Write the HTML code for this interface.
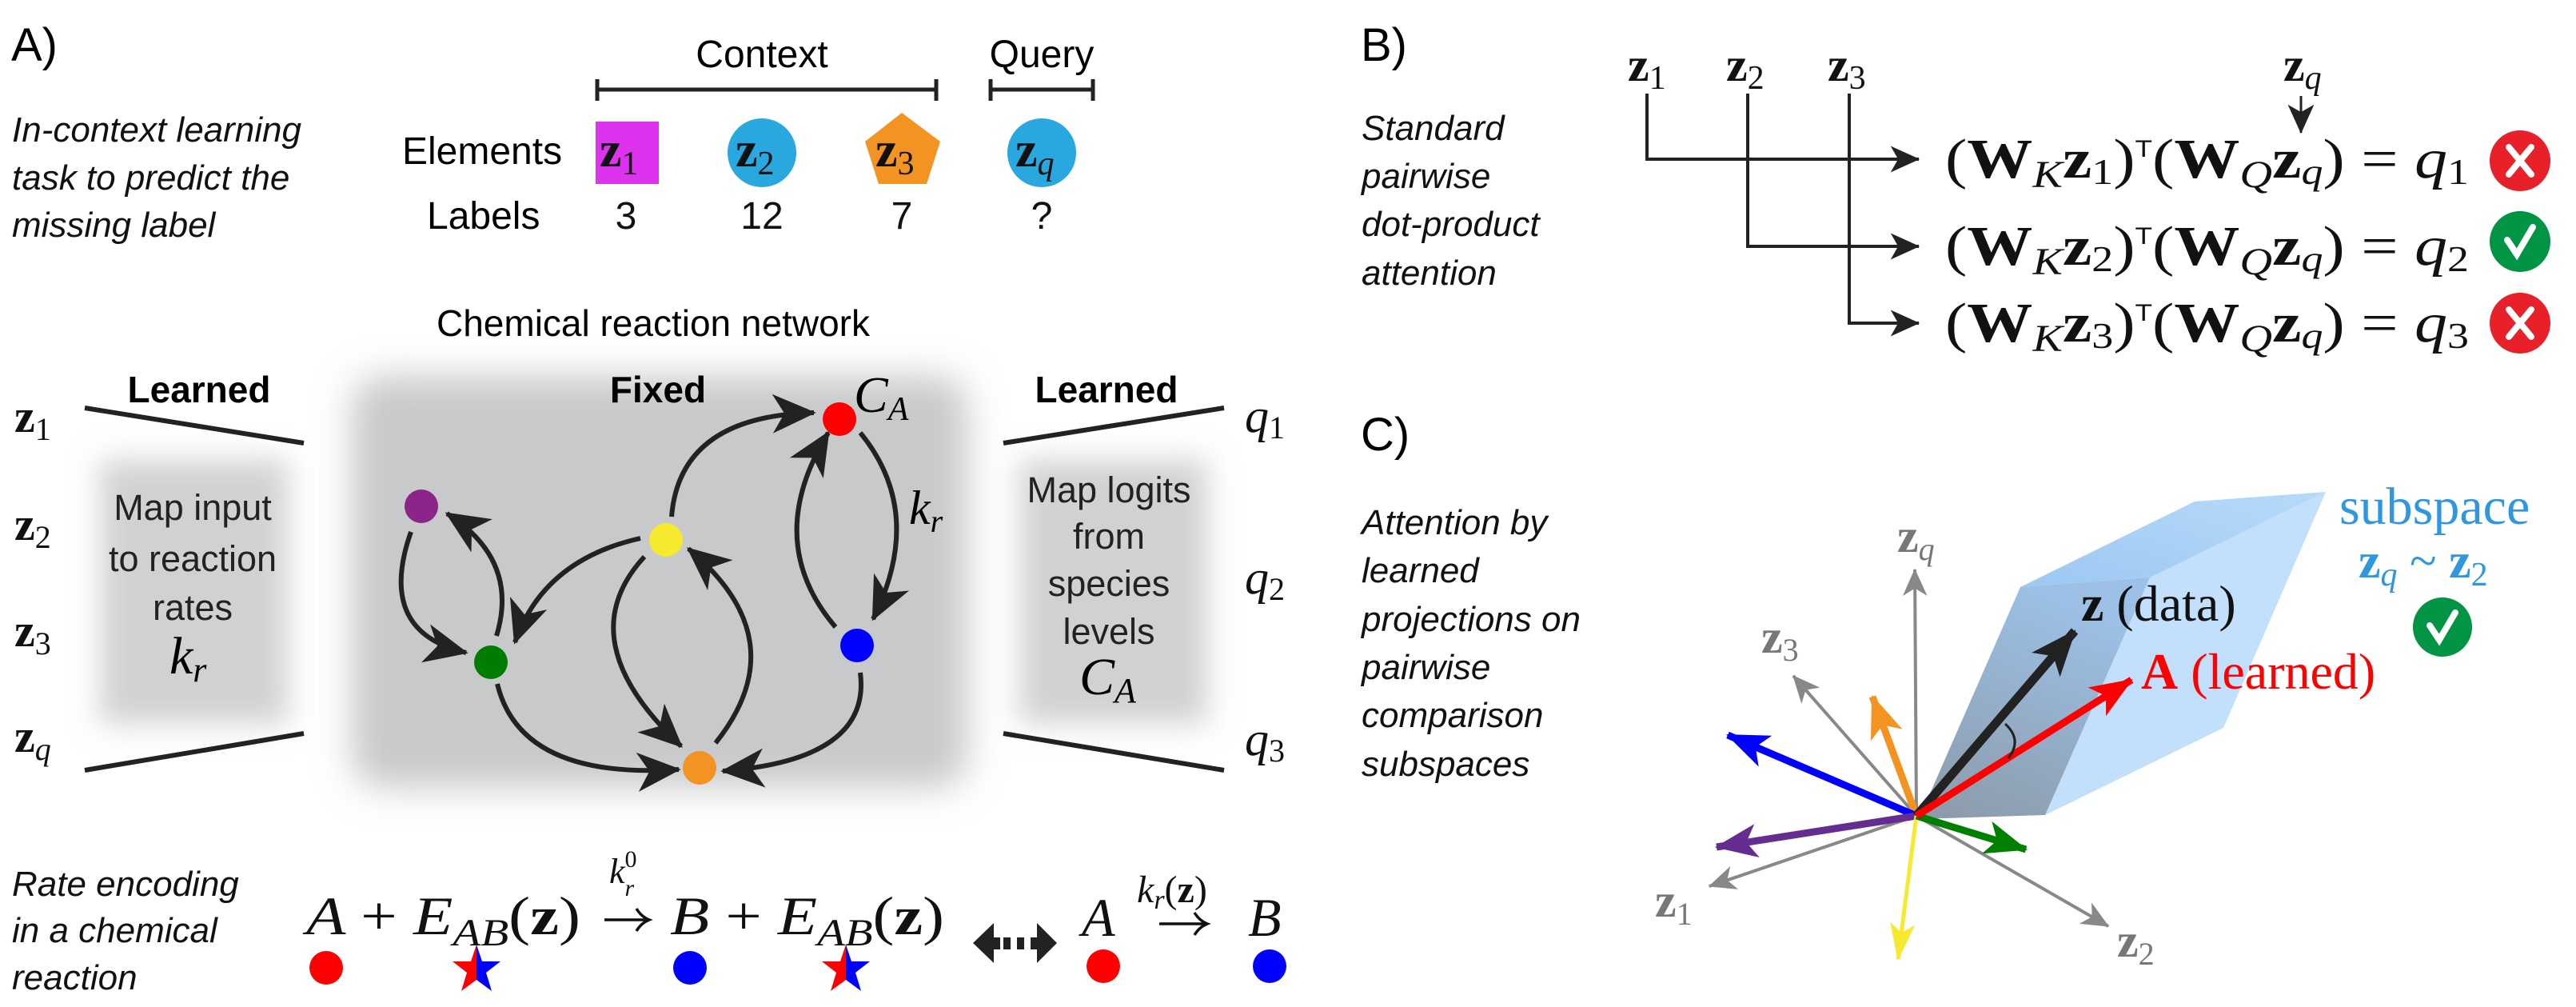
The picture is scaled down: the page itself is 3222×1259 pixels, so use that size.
<!DOCTYPE html>
<html><head><meta charset="utf-8"><style>
html,body{margin:0;padding:0;background:#fff;}
svg{display:block;}
.s{font-family:"Liberation Sans",sans-serif;}
.i{font-family:"Liberation Sans",sans-serif;font-style:italic;font-size:44px;fill:#111;}
.m{font-family:"Liberation Serif",serif;}
.mi{font-family:"Liberation Serif",serif;font-style:italic;}
</style></head><body>
<svg width="3222" height="1259" viewBox="0 0 3222 1259" xmlns="http://www.w3.org/2000/svg">
<defs>
<marker id="ah" markerUnits="userSpaceOnUse" markerWidth="60" markerHeight="60" refX="0" refY="0" viewBox="-40 -20 44 40" orient="auto"><path d="M2,0 L-38,-18 L-27,0 L-38,18 Z" fill="#222"/></marker>
<marker id="ahb" markerUnits="userSpaceOnUse" markerWidth="40" markerHeight="40" refX="0" refY="0" viewBox="-32 -16 34 32" orient="auto"><path d="M1,0 L-30,-14 L-22,0 L-30,14 Z" fill="#222"/></marker>
<marker id="ahg" markerUnits="userSpaceOnUse" markerWidth="40" markerHeight="40" refX="0" refY="0" viewBox="-32 -16 34 32" orient="auto"><path d="M1,0 L-28,-13 L-20,0 L-28,13 Z" fill="#888"/></marker>
<marker id="mo" markerUnits="userSpaceOnUse" markerWidth="60" markerHeight="60" refX="0" refY="0" viewBox="-50 -25 54 50" orient="auto"><path d="M2,0 L-46,-19 L-34,0 L-46,19 Z" fill="#f39322"/></marker>
<marker id="mb" markerUnits="userSpaceOnUse" markerWidth="60" markerHeight="60" refX="0" refY="0" viewBox="-50 -25 54 50" orient="auto"><path d="M2,0 L-46,-19 L-34,0 L-46,19 Z" fill="#0000ff"/></marker>
<marker id="mp" markerUnits="userSpaceOnUse" markerWidth="60" markerHeight="60" refX="0" refY="0" viewBox="-50 -25 54 50" orient="auto"><path d="M2,0 L-46,-19 L-34,0 L-46,19 Z" fill="#662d91"/></marker>
<marker id="my" markerUnits="userSpaceOnUse" markerWidth="60" markerHeight="60" refX="0" refY="0" viewBox="-50 -25 54 50" orient="auto"><path d="M2,0 L-40,-14 L-30,0 L-40,14 Z" fill="#f7e92e"/></marker>
<marker id="mg" markerUnits="userSpaceOnUse" markerWidth="60" markerHeight="60" refX="0" refY="0" viewBox="-50 -25 54 50" orient="auto"><path d="M2,0 L-46,-19 L-34,0 L-46,19 Z" fill="#008000"/></marker>
<marker id="mk" markerUnits="userSpaceOnUse" markerWidth="60" markerHeight="60" refX="0" refY="0" viewBox="-50 -25 54 50" orient="auto"><path d="M2,0 L-50,-21 L-37,0 L-50,21 Z" fill="#222"/></marker>
<marker id="mr" markerUnits="userSpaceOnUse" markerWidth="60" markerHeight="60" refX="0" refY="0" viewBox="-50 -25 54 50" orient="auto"><path d="M2,0 L-46,-19 L-34,0 L-46,19 Z" fill="#ff0000"/></marker>
<filter id="bl" x="-20%" y="-20%" width="140%" height="140%"><feGaussianBlur stdDeviation="22"/></filter>
<filter id="bl2" x="-20%" y="-20%" width="140%" height="140%"><feGaussianBlur stdDeviation="18"/></filter>
<linearGradient id="lf" x1="0" y1="1" x2="0.4" y2="0"><stop offset="0" stop-color="#8c9aa8"/><stop offset="1" stop-color="#9cc0e6"/></linearGradient>
<linearGradient id="tf" x1="0" y1="1" x2="1" y2="0"><stop offset="0" stop-color="#9cc8f2"/><stop offset="1" stop-color="#b8daf9"/></linearGradient>
<clipPath id="lh1"><rect x="560" y="1160" width="36" height="100"/></clipPath>
<clipPath id="rh1"><rect x="596" y="1160" width="40" height="100"/></clipPath>
<clipPath id="lh2"><rect x="1020" y="1160" width="38" height="100"/></clipPath>
<clipPath id="rh2"><rect x="1058" y="1160" width="40" height="100"/></clipPath>
</defs>

<!-- ============ PANEL A ============ -->
<text class="s" x="14" y="76" font-size="58">A)</text>
<text class="i" x="15" y="177">In-context learning</text>
<text class="i" x="15" y="237">task to predict the</text>
<text class="i" x="15" y="296">missing label</text>

<text class="s" x="953" y="84" font-size="48" text-anchor="middle">Context</text>
<text class="s" x="1303" y="84" font-size="48" text-anchor="middle">Query</text>
<g stroke="#222" stroke-width="5"><line x1="747" y1="112" x2="1171" y2="112"/><line x1="747" y1="99" x2="747" y2="126"/><line x1="1171" y1="99" x2="1171" y2="126"/>
<line x1="1239" y1="112" x2="1367" y2="112"/><line x1="1239" y1="99" x2="1239" y2="126"/><line x1="1367" y1="99" x2="1367" y2="126"/></g>

<text class="s" x="503" y="205" font-size="48">Elements</text>
<text class="s" x="534" y="286" font-size="48">Labels</text>
<rect x="745" y="152" width="79" height="78" fill="#dd33ee"/>
<circle cx="953" cy="191" r="43" fill="#29a8e0"/>
<polygon points="1128,141 1176,177 1159,230 1099,230 1082,177" fill="#f39322"/>
<circle cx="1303" cy="191" r="43" fill="#29a8e0"/>
<g class="m" font-size="62" fill="#111">
<text x="750" y="208"><tspan font-weight="bold">z</tspan><tspan font-size="42" dy="10">1</tspan></text>
<text x="920" y="208"><tspan font-weight="bold">z</tspan><tspan font-size="42" dy="10">2</tspan></text>
<text x="1095" y="208"><tspan font-weight="bold">z</tspan><tspan font-size="42" dy="10">3</tspan></text>
<text x="1270" y="208"><tspan font-weight="bold">z</tspan><tspan font-size="42" dy="10" font-style="italic">q</tspan></text>
</g>
<g class="s" font-size="48" text-anchor="middle" fill="#111">
<text x="783" y="286">3</text><text x="953" y="286">12</text><text x="1128" y="286">7</text><text x="1303" y="286">?</text>
</g>

<text class="s" x="817" y="420" font-size="46" text-anchor="middle">Chemical reaction network</text>

<rect x="440" y="470" width="770" height="515" rx="40" fill="#c8c9cb" filter="url(#bl)"/>
<rect x="125" y="575" width="235" height="330" fill="#d0d1d3" filter="url(#bl2)"/>
<rect x="1275" y="575" width="235" height="330" fill="#d0d1d3" filter="url(#bl2)"/>

<g stroke="#222" stroke-width="6">
<line x1="106" y1="510" x2="380" y2="554"/><line x1="106" y1="963" x2="380" y2="917"/>
<line x1="1255" y1="554" x2="1531" y2="510"/><line x1="1255" y1="917" x2="1531" y2="963"/>
</g>
<text class="s" x="249" y="503" font-size="46" font-weight="bold" text-anchor="middle">Learned</text>
<text class="s" x="1384" y="503" font-size="46" font-weight="bold" text-anchor="middle">Learned</text>
<text class="s" x="823" y="503" font-size="46" font-weight="bold" text-anchor="middle">Fixed</text>

<g class="s" font-size="45" text-anchor="middle" fill="#222">
<text x="241" y="650">Map input</text><text x="241" y="714">to reaction</text><text x="241" y="775">rates</text>
<text x="1387" y="628">Map logits</text><text x="1387" y="686">from</text><text x="1387" y="745">species</text><text x="1387" y="805">levels</text>
</g>
<text class="mi" x="212" y="842" font-size="66">k<tspan font-size="44" dy="10">r</tspan></text>
<text class="mi" x="1350" y="868" font-size="66">C<tspan font-size="44" dy="10">A</tspan></text>

<g class="m" font-size="58" fill="#111">
<text x="18" y="540"><tspan font-weight="bold">z</tspan><tspan font-size="40" dy="10">1</tspan></text>
<text x="18" y="675"><tspan font-weight="bold">z</tspan><tspan font-size="40" dy="10">2</tspan></text>
<text x="18" y="808"><tspan font-weight="bold">z</tspan><tspan font-size="40" dy="10">3</tspan></text>
<text x="18" y="940"><tspan font-weight="bold">z</tspan><tspan font-size="40" dy="10" font-style="italic">q</tspan></text>
</g>
<g class="mi" font-size="60" fill="#111">
<text x="1557" y="540">q<tspan font-size="40" font-style="normal" dy="8">1</tspan></text>
<text x="1557" y="742">q<tspan font-size="40" font-style="normal" dy="8">2</tspan></text>
<text x="1557" y="944">q<tspan font-size="40" font-style="normal" dy="8">3</tspan></text>
</g>

<g fill="none" stroke="#222" stroke-width="6" marker-end="url(#ah)">
<path d="M840,646 Q850,520 1018,516"/>
<path d="M1076,541 Q1158,641 1092,774"/>
<path d="M1045,784 Q953,676 1036,541"/>
<path d="M801,673 Q680,700 644,803"/>
<path d="M514,665 Q470,790 583,816"/>
<path d="M621,795 Q650,700 559,642"/>
<path d="M622,855 Q651,975 849,962"/>
<path d="M806,696 Q710,800 852,933"/>
<path d="M895,929 Q998,800 861,686"/>
<path d="M1076,841 Q1090,950 904,964"/>
</g>
<text class="mi" x="1068" y="515" font-size="64">C<tspan font-size="42" dy="10">A</tspan></text>
<text class="mi" x="1137" y="655" font-size="60">k<tspan font-size="40" dy="10">r</tspan></text>
<circle cx="1050" cy="524" r="21" fill="#ff0000"/>
<circle cx="527" cy="633" r="21" fill="#8b258a"/>
<circle cx="833" cy="675" r="21" fill="#f7e92e"/>
<circle cx="614" cy="828" r="21" fill="#007d00"/>
<circle cx="1072" cy="807" r="21" fill="#0000ff"/>
<circle cx="875" cy="960" r="21" fill="#f39322"/>

<text class="i" x="15" y="1120">Rate encoding</text>
<text class="i" x="15" y="1178">in a chemical</text>
<text class="i" x="15" y="1237">reaction</text>
<g class="mi" font-size="68" fill="#111">
<text x="383" y="1168" textLength="343" lengthAdjust="spacingAndGlyphs">A <tspan font-style="normal">+</tspan> E<tspan font-size="48" dy="14">AB</tspan><tspan font-style="normal" dy="-14">(</tspan><tspan font-weight="bold" font-style="normal">z</tspan><tspan font-style="normal">)</tspan></text>
<text x="762" y="1104" font-size="44">k<tspan font-size="30" font-style="normal" dy="-20">0</tspan><tspan font-size="30" dx="-15" dy="36">r</tspan></text>
<text x="838" y="1168" textLength="343" lengthAdjust="spacingAndGlyphs">B <tspan font-style="normal">+</tspan> E<tspan font-size="48" dy="14">AB</tspan><tspan font-style="normal" dy="-14">(</tspan><tspan font-weight="bold" font-style="normal">z</tspan><tspan font-style="normal">)</tspan></text>
<text x="1353" y="1170">A</text>
<text x="1422" y="1128" font-size="48">k<tspan font-size="34" dy="8">r</tspan><tspan font-style="normal" dy="-8">(</tspan><tspan font-weight="bold" font-style="normal">z</tspan><tspan font-style="normal">)</tspan></text>
<text x="1561" y="1170">B</text>
</g>
<g fill="none" stroke="#111" stroke-width="3.5">
<path d="M756,1150 H810 M796,1136 Q802,1146 812,1150 Q802,1154 796,1164"/>
<path d="M1450,1155 H1508 M1494,1141 Q1500,1151 1510,1155 Q1500,1159 1494,1169"/>
</g>
<g fill="#222"><polygon points="1217,1179 1243,1154 1243,1204"/><rect x="1243" y="1172" width="8" height="15"/><rect x="1255" y="1172" width="9" height="15"/><rect x="1272" y="1172" width="9" height="15"/><rect x="1289" y="1172" width="9" height="15"/><polygon points="1322,1179 1297,1154 1297,1204"/></g>
<circle cx="408" cy="1210" r="21" fill="#ff0000"/>
<circle cx="863" cy="1210" r="21" fill="#0000ff"/>
<circle cx="1380" cy="1208" r="21" fill="#ff0000"/>
<circle cx="1588" cy="1208" r="21" fill="#0000ff"/>
<polygon clip-path="url(#lh1)" fill="#ff0000" points="596,1181 603,1202 626,1202 608,1216 615,1239 596,1225 577,1239 584,1216 566,1202 589,1202"/>
<polygon clip-path="url(#rh1)" fill="#0000ff" points="596,1181 603,1202 626,1202 608,1216 615,1239 596,1225 577,1239 584,1216 566,1202 589,1202"/>
<polygon clip-path="url(#lh2)" fill="#ff0000" points="1058,1181 1065,1202 1088,1202 1070,1216 1077,1239 1058,1225 1039,1239 1046,1216 1028,1202 1051,1202"/>
<polygon clip-path="url(#rh2)" fill="#0000ff" points="1058,1181 1065,1202 1088,1202 1070,1216 1077,1239 1058,1225 1039,1239 1046,1216 1028,1202 1051,1202"/>

<!-- ============ PANEL B ============ -->
<text class="s" x="1702" y="76" font-size="58">B)</text>
<text class="i" x="1703" y="175">Standard</text>
<text class="i" x="1703" y="235">pairwise</text>
<text class="i" x="1703" y="295">dot-product</text>
<text class="i" x="1703" y="356">attention</text>
<g class="m" font-size="60" fill="#111">
<text x="2036" y="101"><tspan font-weight="bold">z</tspan><tspan font-size="42" dy="10">1</tspan></text>
<text x="2159" y="101"><tspan font-weight="bold">z</tspan><tspan font-size="42" dy="10">2</tspan></text>
<text x="2286" y="101"><tspan font-weight="bold">z</tspan><tspan font-size="42" dy="10">3</tspan></text>
<text x="2856" y="101"><tspan font-weight="bold">z</tspan><tspan font-size="42" dy="10" font-style="italic">q</tspan></text>
</g>
<g fill="none" stroke="#222" stroke-width="4">
<path d="M2060,117 V199 H2400" marker-end="url(#ahb)"/>
<path d="M2186,117 V308 H2400" marker-end="url(#ahb)"/>
<path d="M2313,117 V404 H2400" marker-end="url(#ahb)"/>
<path d="M2878,120 V166" stroke-width="3" marker-end="url(#ahb)"/>
</g>
<g class="m" font-size="70" fill="#111">
<text x="2433" y="222" textLength="655" lengthAdjust="spacingAndGlyphs">(<tspan font-weight="bold">W</tspan><tspan font-style="italic" font-size="48" dy="12">K</tspan><tspan font-weight="bold" dy="-12">z</tspan><tspan font-size="46" dy="8">1</tspan><tspan dy="-8">)</tspan><tspan font-family="Liberation Sans" font-size="30" dy="-26">T</tspan><tspan dy="26">(</tspan><tspan font-weight="bold">W</tspan><tspan font-style="italic" font-size="48" dy="12">Q</tspan><tspan font-weight="bold" dy="-12">z</tspan><tspan font-style="italic" font-size="46" dy="8">q</tspan><tspan dy="-8">) = </tspan><tspan font-style="italic">q</tspan><tspan font-size="46" dy="8">1</tspan></text>
<text x="2433" y="331" textLength="655" lengthAdjust="spacingAndGlyphs">(<tspan font-weight="bold">W</tspan><tspan font-style="italic" font-size="48" dy="12">K</tspan><tspan font-weight="bold" dy="-12">z</tspan><tspan font-size="46" dy="8">2</tspan><tspan dy="-8">)</tspan><tspan font-family="Liberation Sans" font-size="30" dy="-26">T</tspan><tspan dy="26">(</tspan><tspan font-weight="bold">W</tspan><tspan font-style="italic" font-size="48" dy="12">Q</tspan><tspan font-weight="bold" dy="-12">z</tspan><tspan font-style="italic" font-size="46" dy="8">q</tspan><tspan dy="-8">) = </tspan><tspan font-style="italic">q</tspan><tspan font-size="46" dy="8">2</tspan></text>
<text x="2433" y="427" textLength="655" lengthAdjust="spacingAndGlyphs">(<tspan font-weight="bold">W</tspan><tspan font-style="italic" font-size="48" dy="12">K</tspan><tspan font-weight="bold" dy="-12">z</tspan><tspan font-size="46" dy="8">3</tspan><tspan dy="-8">)</tspan><tspan font-family="Liberation Sans" font-size="30" dy="-26">T</tspan><tspan dy="26">(</tspan><tspan font-weight="bold">W</tspan><tspan font-style="italic" font-size="48" dy="12">Q</tspan><tspan font-weight="bold" dy="-12">z</tspan><tspan font-style="italic" font-size="46" dy="8">q</tspan><tspan dy="-8">) = </tspan><tspan font-style="italic">q</tspan><tspan font-size="46" dy="8">3</tspan></text>
</g>
<g stroke="#fff" stroke-width="8" stroke-linecap="round" fill="none">
<circle cx="3152" cy="201" r="38" fill="#e8202a" stroke="none"/><path d="M3138,184 L3166,218 M3166,184 L3138,218"/>
<circle cx="3152" cy="302" r="38" fill="#009444" stroke="none"/><path d="M3136,300 L3148,318 L3168,284"/>
<circle cx="3152" cy="404" r="38" fill="#e8202a" stroke="none"/><path d="M3138,387 L3166,421 M3166,387 L3138,421"/>
</g>

<!-- ============ PANEL C ============ -->
<text class="s" x="1702" y="563" font-size="58">C)</text>
<text class="i" x="1703" y="668">Attention by</text>
<text class="i" x="1703" y="728">learned</text>
<text class="i" x="1703" y="789">projections on</text>
<text class="i" x="1703" y="849">pairwise</text>
<text class="i" x="1703" y="909">comparison</text>
<text class="i" x="1703" y="970">subspaces</text>

<polygon points="2527,734 2745,627 2909,615 2689,722" fill="url(#tf)"/>
<polygon points="2558,1019 2689,722 2909,615 2781,910" fill="#c2dffc"/>
<polygon points="2400,1024 2527,734 2689,722 2558,1019" fill="url(#lf)"/>

<g stroke="#888" stroke-width="4" fill="none" marker-end="url(#ahg)">
<line x1="2397" y1="1020" x2="2395" y2="712"/>
<line x1="2397" y1="1020" x2="2243" y2="845"/>
<line x1="2397" y1="1020" x2="2138" y2="1108"/>
<line x1="2397" y1="1020" x2="2637" y2="1158"/>
</g>
<g fill="none" stroke-width="9">
<line x1="2397" y1="1020" x2="2342" y2="871" stroke="#f39322" marker-end="url(#mo)"/>
<line x1="2397" y1="1020" x2="2161" y2="919" stroke="#0000ff" marker-end="url(#mb)"/>
<line x1="2397" y1="1020" x2="2147" y2="1059" stroke="#662d91" marker-end="url(#mp)"/>
<line x1="2397" y1="1020" x2="2374" y2="1199" stroke="#f7e92e" stroke-width="5" marker-end="url(#my)"/>
<line x1="2397" y1="1020" x2="2534" y2="1062" stroke="#008000" marker-end="url(#mg)"/>
<line x1="2397" y1="1020" x2="2595" y2="789" stroke="#222" stroke-width="11" marker-end="url(#mk)"/>
<line x1="2397" y1="1020" x2="2666" y2="850" stroke="#ff0000" marker-end="url(#mr)"/>
</g>
<path d="M2508,905 Q2530,925 2512,948" fill="none" stroke="#222" stroke-width="3"/>

<g class="m" font-size="60" fill="#777">
<text x="2373" y="690"><tspan font-weight="bold">z</tspan><tspan font-style="italic" font-size="40" dy="10">q</tspan></text>
<text x="2203" y="816"><tspan font-weight="bold">z</tspan><tspan font-size="40" dy="10">3</tspan></text>
<text x="2070" y="1146"><tspan font-weight="bold">z</tspan><tspan font-size="40" dy="10">1</tspan></text>
<text x="2648" y="1196"><tspan font-weight="bold">z</tspan><tspan font-size="40" dy="10">2</tspan></text>
</g>
<text class="m" x="2603" y="776" font-size="64" fill="#111"><tspan font-weight="bold">z</tspan> (data)</text>
<text class="m" x="2678" y="861" font-size="64" fill="#ff0000"><tspan font-weight="bold">A</tspan> (learned)</text>
<text class="m" x="2926" y="655" font-size="66" fill="#2f96e0">subspace</text>
<text class="m" x="2950" y="722" font-size="62" fill="#2f96e0"><tspan font-weight="bold">z</tspan><tspan font-style="italic" font-size="42" dy="10">q</tspan><tspan dy="-10"> ~ </tspan><tspan font-weight="bold">z</tspan><tspan font-size="42" dy="10">2</tspan></text>
<circle cx="3055" cy="784" r="37" fill="#009444"/>
<path d="M3039,782 L3051,800 L3071,766" fill="none" stroke="#fff" stroke-width="8" stroke-linecap="round"/>
</svg>
</body></html>
